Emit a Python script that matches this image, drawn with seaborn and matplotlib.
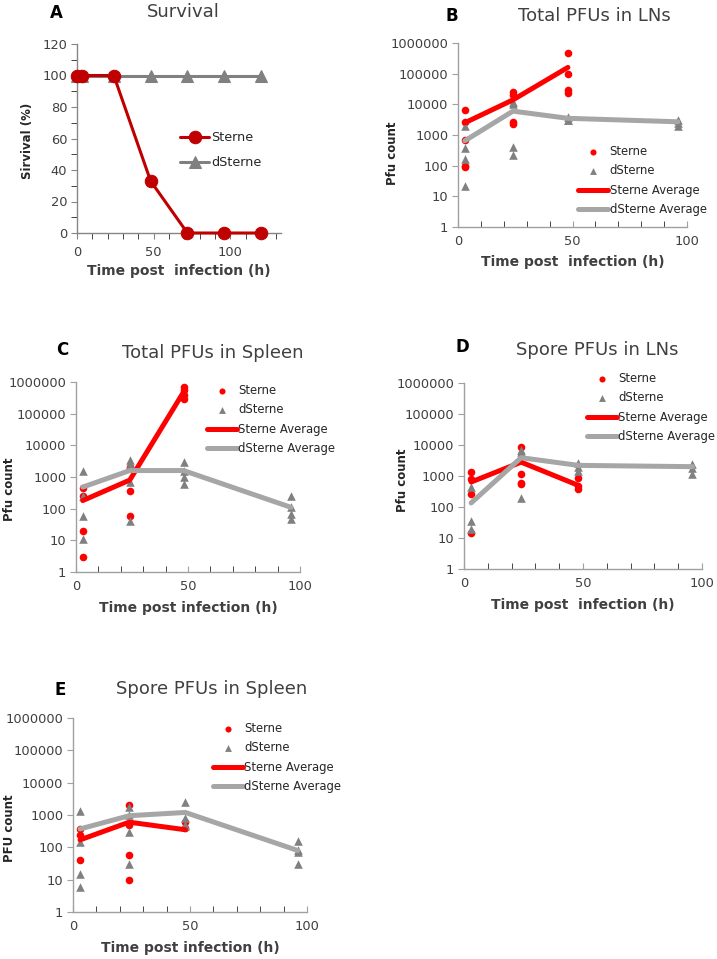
"""
Survival and PFU counts after Sterne / dSterne infection (panels A-E).
"""
import matplotlib
matplotlib.use("Agg")
import matplotlib.pyplot as plt
from matplotlib.ticker import FixedLocator, MultipleLocator, NullLocator
import seaborn as sns

FIG_W, FIG_H = 717, 959

# ---- panel A: survival ----
surv_t = [0, 3, 24, 48, 72, 96, 120]
surv_sterne = [100, 100, 100, 33, 0, 0, 0]
surv_dsterne = [100, 100, 100, 100, 100, 100, 100]

# ---- panel B: total PFUs in LNs ----
lns_total_sterne_t = [3, 3, 3, 3, 3, 24, 24, 24, 24, 48, 48, 48, 48]
lns_total_sterne = [6400, 2600, 690, 100, 90, 25000, 20000, 2700, 2300,
                    480000, 100000, 30000, 23000]
lns_total_dsterne_t = [3, 3, 3, 3, 24, 24, 24, 24, 48, 48, 48, 96, 96, 96]
lns_total_dsterne = [1900, 370, 170, 22, 12000, 10000, 400, 230,
                     3800, 3200, 3000, 3200, 2500, 2000]
lns_total_sterne_avg = [2500, 14000, 160000]
lns_total_dsterne_avg = [650, 6000, 3500, 2700]

# ---- panel C: total PFUs in spleen ----
spl_total_sterne_t = [3, 3, 3, 3, 24, 24, 24, 48, 48, 48, 48]
spl_total_sterne = [450, 250, 20, 3, 2000, 350, 60,
                    700000, 550000, 400000, 300000]
spl_total_dsterne_t = [3, 3, 3, 3, 24, 24, 24, 24, 48, 48, 48, 48,
                       96, 96, 96, 96]
spl_total_dsterne = [1500, 260, 60, 11, 3500, 2500, 700, 40,
                     3000, 1500, 1000, 600, 245, 113, 70, 48]
spl_total_sterne_avg = [180, 800, 480000]
spl_total_dsterne_avg = [480, 1600, 1600, 110]

# ---- panel D: spore PFUs in LNs ----
lns_spore_sterne_t = [3, 3, 3, 3, 24, 24, 24, 24, 48, 48, 48]
lns_spore_sterne = [1350, 820, 270, 15, 8500, 1200, 600, 550, 850, 460, 390]
lns_spore_dsterne_t = [3, 3, 3, 24, 24, 24, 48, 48, 48, 96, 96, 96]
lns_spore_dsterne = [440, 35, 20, 7000, 6000, 190, 2600, 1900, 1500,
                     2400, 1800, 1200]
lns_spore_sterne_avg = [640, 2800, 500]
lns_spore_dsterne_avg = [135, 3900, 2200, 2000]

# ---- panel E: spore PFUs in spleen ----
spl_spore_sterne_t = [3, 3, 3, 24, 24, 24, 24, 48, 48]
spl_spore_sterne = [380, 240, 40, 2000, 480, 60, 10, 600, 400]
spl_spore_dsterne_t = [3, 3, 3, 3, 24, 24, 24, 24, 48, 48, 48, 48,
                       96, 96, 96, 96]
spl_spore_dsterne = [1300, 150, 15, 6, 1800, 1000, 300, 30,
                     2500, 800, 500, 450, 160, 80, 70, 30]
spl_spore_sterne_avg = [170, 600, 350]
spl_spore_dsterne_avg = [370, 950, 1200, 80]

sterne_avg_t = [3, 24, 48]
dsterne_avg_t = [3, 24, 48, 96]

pfu_ticks = [1, 10, 100, 1000, 10000, 100000, 1000000]
pfu_tick_labels = ["1", "10", "100", "1000", "10000", "100000", "1000000"]

RED = "#FF0000"
DARK_RED = "#C00000"
GRAY = "#808080"
LIGHT_GRAY = "#A6A6A6"
TEXT = "#404040"


def px_rect(left, top, right, bottom):
    return [left / FIG_W, 1 - bottom / FIG_H,
            (right - left) / FIG_W, (bottom - top) / FIG_H]


def fig_text(fig, x, y, s, **kw):
    fig.text(x / FIG_W, 1 - y / FIG_H, s, ha="center", va="center", **kw)


def style_axes(ax, spine_color):
    for side in ("top", "right"):
        ax.spines[side].set_visible(False)
    for side in ("left", "bottom"):
        ax.spines[side].set_color(spine_color)
        ax.spines[side].set_linewidth(1.0)
    ax.tick_params(colors=spine_color, labelcolor=TEXT, labelsize=9.4)


def place_labels(ax, xlabel, ylabel, xlab_y, ylab_xy):
    ax.set_xlabel(xlabel, fontsize=10, fontweight="bold", color=TEXT)
    ax.set_ylabel(ylabel, fontsize=8.5, fontweight="bold", color="#262626")
    ax.xaxis.label.set_va("center")
    ax.yaxis.label.set_va("center")
    ax.xaxis.set_label_coords(0.5, xlab_y)
    ax.yaxis.set_label_coords(*ylab_xy)


def plot_pfu_panel(fig, rect_px, st_t, st, ds_t, ds, st_avg, ds_avg,
                   xlabel, ylabel, xlab_y, ylab_xy, legend_px):
    ax = fig.add_axes(px_rect(*rect_px))
    ax.set_yscale("log")
    sns.scatterplot(x=st_t, y=st, ax=ax, color=RED, marker="o", s=30,
                    linewidth=0, label="Sterne", zorder=3)
    sns.scatterplot(x=ds_t, y=ds, ax=ax, color=GRAY, marker="^", s=38,
                    linewidth=0, label="dSterne", zorder=3)
    sns.lineplot(x=sterne_avg_t, y=st_avg, ax=ax, color=RED, linewidth=3.6,
                 estimator=None, sort=False, label="Sterne Average", zorder=4)
    sns.lineplot(x=dsterne_avg_t, y=ds_avg, ax=ax, color=LIGHT_GRAY,
                 linewidth=3.6, estimator=None, sort=False,
                 label="dSterne Average", zorder=4)

    ax.set_xlim(0, 100)
    ax.set_ylim(1, 1000000)
    ax.yaxis.set_major_locator(FixedLocator(pfu_ticks))
    ax.set_yticklabels(pfu_tick_labels)
    ax.yaxis.set_minor_locator(NullLocator())
    ax.xaxis.set_major_locator(MultipleLocator(50))
    ax.xaxis.set_minor_locator(MultipleLocator(10))
    style_axes(ax, "#A0A0A0")
    ax.tick_params(axis="y", which="major", direction="out", length=4, pad=3)
    ax.tick_params(axis="x", which="both", direction="in", length=4, pad=6)

    place_labels(ax, xlabel, ylabel, xlab_y, ylab_xy)
    leg = ax.legend(loc="upper left",
                    bbox_to_anchor=(legend_px[0] / FIG_W, 1 - legend_px[1] / FIG_H),
                    bbox_transform=fig.transFigure, frameon=False, fontsize=8.4,
                    handlelength=2.6, handletextpad=0.1, labelspacing=0.55,
                    borderpad=0, borderaxespad=0, markerscale=0.8)
    for t in leg.get_texts():
        t.set_color("#262626")
    return ax


sns.set_style("ticks")
plt.rcParams["font.family"] = ["DejaVu Sans"]

fig = plt.figure(figsize=(FIG_W / 100, FIG_H / 100), dpi=100)

# Panel A: survival curve
ax = fig.add_axes(px_rect(77, 44, 281, 233))
sns.lineplot(x=surv_t, y=surv_sterne, ax=ax, color=DARK_RED, linewidth=2.2,
             marker="o", markersize=9, markeredgecolor=DARK_RED,
             estimator=None, sort=False, label="Sterne", clip_on=False, zorder=4)
sns.lineplot(x=surv_t, y=surv_dsterne, ax=ax, color=GRAY, linewidth=2.2,
             marker="^", markersize=9, markeredgecolor=GRAY,
             estimator=None, sort=False, label="dSterne", clip_on=False, zorder=3)
ax.set_xlim(0, 133)
ax.set_ylim(0, 120)
ax.xaxis.set_major_locator(MultipleLocator(50))
ax.xaxis.set_minor_locator(MultipleLocator(10))
ax.yaxis.set_major_locator(MultipleLocator(20))
ax.yaxis.set_minor_locator(MultipleLocator(10))
style_axes(ax, "#868686")
ax.tick_params(which="both", direction="out", length=4, pad=3)
ax.tick_params(axis="x", pad=5)
place_labels(ax, "Time post  infection (h)", "Sirvival (%)",
             -38 / 189, (-0.245, 0.49))
leg = ax.legend(loc="upper left", bbox_to_anchor=(180 / FIG_W, 1 - 131 / FIG_H),
                bbox_transform=fig.transFigure, frameon=False, fontsize=9.2,
                handlelength=2.3, handletextpad=0.15, labelspacing=0.95,
                borderpad=0, borderaxespad=0)
for t in leg.get_texts():
    t.set_color("#262626")

# Panels B-E: PFU counts on a log scale
plot_pfu_panel(fig, (458, 43, 687, 227),
               lns_total_sterne_t, lns_total_sterne,
               lns_total_dsterne_t, lns_total_dsterne,
               lns_total_sterne_avg, lns_total_dsterne_avg,
               "Time post  infection (h)", "Pfu count",
               -35 / 184, (-0.284, 0.40), (578, 145))
plot_pfu_panel(fig, (76, 382, 300, 572),
               spl_total_sterne_t, spl_total_sterne,
               spl_total_dsterne_t, spl_total_dsterne,
               spl_total_sterne_avg, spl_total_dsterne_avg,
               "Time post infection (h)", "Pfu count",
               -36 / 190, (-0.295, 0.437), (207, 384))
plot_pfu_panel(fig, (464, 383, 702, 569),
               lns_spore_sterne_t, lns_spore_sterne,
               lns_spore_dsterne_t, lns_spore_dsterne,
               lns_spore_sterne_avg, lns_spore_dsterne_avg,
               "Time post  infection (h)", "Pfu count",
               -36 / 186, (-0.26, 0.478), (587, 372))
plot_pfu_panel(fig, (73, 718, 307, 912),
               spl_spore_sterne_t, spl_spore_sterne,
               spl_spore_dsterne_t, spl_spore_dsterne,
               spl_spore_sterne_avg, spl_spore_dsterne_avg,
               "Time post infection (h)", "PFU count",
               -36 / 194, (-0.27, 0.433), (213, 722))

# Panel letters and titles
panel_titles = ["Survival", "Total PFUs in LNs", "Total PFUs in Spleen",
                "Spore PFUs in LNs", "Spore PFUs in Spleen"]
title_px = [(183, 12), (594, 16), (213, 353), (597, 350), (212, 689)]
letters = ["A", "B", "C", "D", "E"]
letter_px = [(56, 13), (452, 16), (62, 350), (462, 347), (60, 690)]
for title, (tx, ty), letter, (lx, ly) in zip(panel_titles, title_px,
                                             letters, letter_px):
    fig_text(fig, tx, ty, title, fontsize=13, color=TEXT)
    fig_text(fig, lx, ly, letter, fontsize=12, fontweight="bold", color="black")

fig.savefig("out.png", dpi=100)
